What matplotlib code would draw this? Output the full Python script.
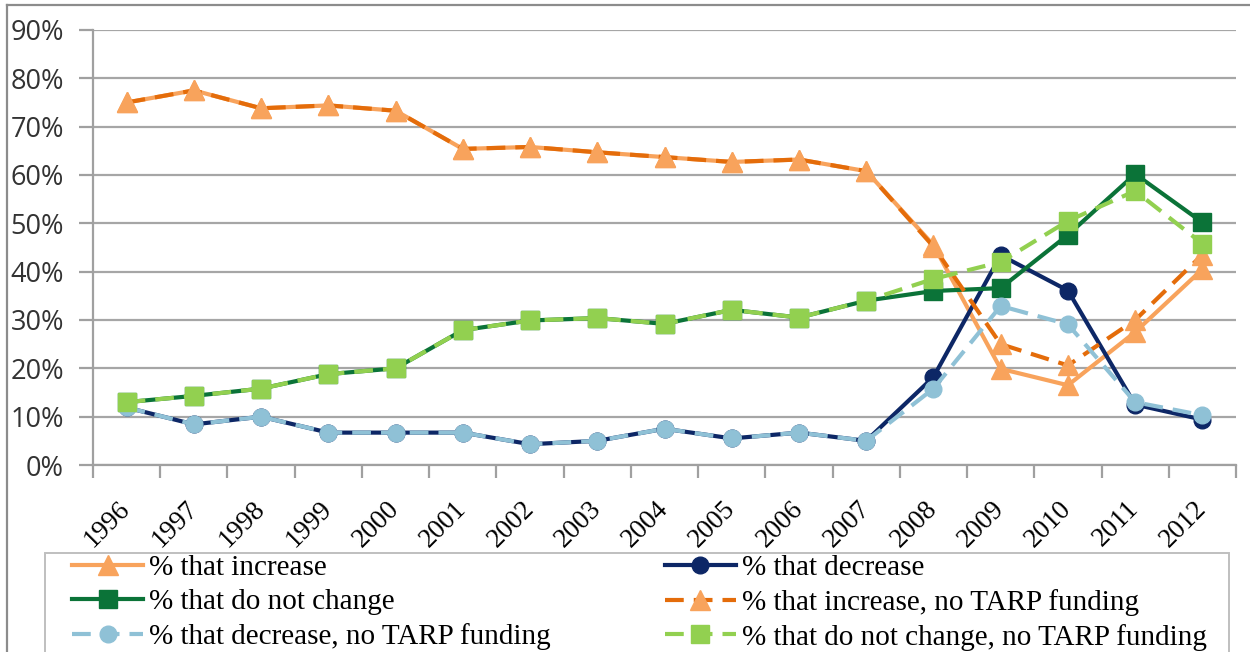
import numpy as np
import matplotlib.pyplot as plt
from matplotlib.lines import Line2D
from matplotlib.patches import Rectangle

years = ['1996', '1997', '1998', '1999', '2000', '2001', '2002', '2003', '2004',
         '2005', '2006', '2007', '2008', '2009', '2010', '2011', '2012']

pct_increase = [75.0, 77.5, 73.8, 74.4, 73.3, 65.4, 65.8, 64.7, 63.7, 62.7, 63.2, 60.8, 45.5, 19.9, 16.5, 27.5, 40.5]
pct_decrease = [11.9, 8.4, 10.0, 6.7, 6.7, 6.7, 4.3, 5.0, 7.5, 5.5, 6.7, 5.0, 18.2, 43.4, 36.1, 12.5, 9.4]
pct_no_change = [13.0, 14.3, 15.8, 18.8, 20.0, 27.9, 29.9, 30.4, 29.2, 32.1, 30.5, 34.0, 36.0, 36.6, 47.6, 60.2, 50.2]
pct_increase_notarp = [75.0, 77.5, 73.8, 74.4, 73.3, 65.4, 65.8, 64.7, 63.7, 62.7, 63.2, 60.8, 45.2, 25.0, 20.6, 30.0, 43.5]
pct_decrease_notarp = [11.9, 8.4, 10.0, 6.7, 6.7, 6.7, 4.3, 5.0, 7.5, 5.5, 6.7, 5.0, 15.8, 32.9, 29.1, 13.0, 10.3]
pct_no_change_notarp = [13.0, 14.3, 15.8, 18.8, 20.0, 27.9, 29.9, 30.4, 29.2, 32.1, 30.5, 34.0, 38.5, 42.0, 50.5, 56.7, 45.8]

W, H = 1250, 652
fig = plt.figure(figsize=(W / 100, H / 100), dpi=100)
ax = fig.add_axes([93 / W, 1 - 465 / H, (1236 - 93) / W, (465 - 30) / H])

x = np.arange(len(years))
lw = 3.0
dash = (4.5, 2.4)

l_inc, = ax.plot(x, pct_increase, color='#F8A35C', lw=lw, marker='^', ms=14,
                 label='% that increase', zorder=3)
l_dec, = ax.plot(x, pct_decrease, color='#0D2766', lw=lw, marker='o', ms=12,
                 label='% that decrease', zorder=3)
l_nc, = ax.plot(x, pct_no_change, color='#0B7338', lw=lw, marker='s', ms=13,
                label='% that do not change', zorder=3)
l_inc2, = ax.plot(x, pct_increase_notarp, color='#E46C0A', lw=lw, dashes=dash,
                  marker='^', ms=14, mfc='#F8A35C', mec='#F8A35C',
                  label='% that increase, no TARP funding', zorder=4)
l_dec2, = ax.plot(x, pct_decrease_notarp, color='#8FC1D6', lw=lw, dashes=dash,
                  marker='o', ms=12, label='% that decrease, no TARP funding', zorder=4)
l_nc2, = ax.plot(x, pct_no_change_notarp, color='#92D050', lw=lw, dashes=dash,
                 marker='s', ms=13, label='% that do not change, no TARP funding', zorder=4)

ax.set_xlim(-0.5, len(years) - 0.5)
ax.set_ylim(0, 90)
ax.set_yticks(np.arange(0, 91, 10))
ax.set_yticklabels([f'{v}%' for v in range(0, 91, 10)],
                   family='Open Sans', fontsize=19.5, color='#333333')
ax.yaxis.grid(True, color='#A6A6A6', lw=1.6)
ax.set_axisbelow(True)

# category labels sit between boundary ticks
ax.set_xticks(x)
ax.set_xticklabels(years, rotation=45, ha='right', va='center',
                   rotation_mode='anchor', family='Liberation Serif', fontsize=19.5)
ax.tick_params(axis='x', length=0, pad=29)
ax.set_xticks(np.arange(-0.5, len(years), 1), minor=True)
ax.tick_params(axis='x', which='minor', length=9, width=1.6, color='#A0A0A0')
ax.tick_params(axis='y', length=10, width=1.6, color='#A0A0A0', pad=11)

for side in ['top', 'right']:
    ax.spines[side].set_visible(False)
for side in ['left', 'bottom']:
    ax.spines[side].set_color('#A0A0A0')
    ax.spines[side].set_linewidth(1.6)

# outer chart border (top and left edges)
fig.add_artist(Line2D([7 / W, 1], [1 - 5 / H, 1 - 5 / H], transform=fig.transFigure,
                      color='#8C8C8C', lw=1.6))
fig.add_artist(Line2D([7 / W, 7 / W], [0, 1 - 5 / H], transform=fig.transFigure,
                      color='#8C8C8C', lw=1.6))

# legend box, filled row by row
fig.add_artist(Rectangle((45 / W, -0.05), (1229 - 45) / W, 1 - 553 / H + 0.05,
                         transform=fig.transFigure, fill=False,
                         edgecolor='#BFBFBF', lw=1.4))
order = [l_inc, l_nc, l_dec2, l_dec, l_inc2, l_nc2]
fig.legend(handles=order, labels=[h.get_label() for h in order],
           loc='upper left', bbox_to_anchor=(72 / W, 1 - 555 / H), ncol=2,
           frameon=False, borderpad=0, borderaxespad=0, handlelength=2.45,
           handletextpad=0.2, labelspacing=0.26, columnspacing=3.9,
           prop={'family': 'Liberation Serif', 'size': 21})

fig.savefig('out.png', dpi=100)
